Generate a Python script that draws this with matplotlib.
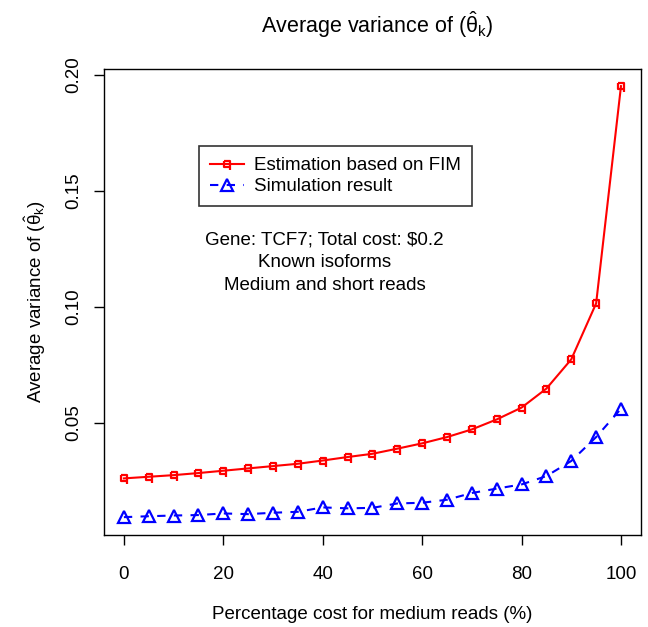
import numpy as np
import matplotlib
matplotlib.use("Agg")
import matplotlib.pyplot as plt
from matplotlib.path import Path

# ---- data ----
pct_medium = [0, 5, 10, 15, 20, 25, 30, 35, 40, 45, 50,
              55, 60, 65, 70, 75, 80, 85, 90, 95, 100]
fim_estimate = [0.0260, 0.0267, 0.0274, 0.0283, 0.0293, 0.0303, 0.0313,
                0.0323, 0.0337, 0.0352, 0.0366, 0.0388, 0.0411, 0.0438,
                0.0471, 0.0514, 0.0565, 0.0647, 0.0773, 0.1014, 0.1950]
simulation = [0.0093, 0.0097, 0.0100, 0.0102, 0.0109, 0.0106, 0.0112,
              0.0116, 0.0135, 0.0131, 0.0133, 0.0152, 0.0155, 0.0168,
              0.0197, 0.0216, 0.0234, 0.0270, 0.0335, 0.0438, 0.0560]
x_ticks = [0, 20, 40, 60, 80, 100]
y_ticks = [0.05, 0.10, 0.15, 0.20]
y_tick_labels = ["0.05", "0.10", "0.15", "0.20"]

plt.rcParams["font.family"] = ["Liberation Sans", "DejaVu Sans"]
plt.rcParams["mathtext.fontset"] = "custom"
plt.rcParams["mathtext.rm"] = "Liberation Sans"
plt.rcParams["mathtext.it"] = "Liberation Sans"

FS = 13.5

# little square with a tail, like the symbol in the original
q_marker = Path([(-1, 1), (1, 1), (1, -2.2), (1, -1), (-1, -1), (-1, 1)],
                [Path.MOVETO, Path.LINETO, Path.LINETO,
                 Path.MOVETO, Path.LINETO, Path.LINETO])

fig = plt.figure(figsize=(6.48, 6.27), dpi=100)
ax = fig.add_axes([0.1605, 0.1467, 0.8285, 0.7433])

ax.plot(pct_medium, fim_estimate, color="red", lw=1.5,
        marker=q_marker, markersize=8, markerfacecolor="none",
        markeredgecolor="red", markeredgewidth=1.6,
        label="Estimation based on FIM")
ax.plot(pct_medium, simulation, color="blue", lw=1.5, ls=(0, (4, 4)),
        marker="^", markersize=9, markerfacecolor="none",
        markeredgecolor="blue", markeredgewidth=1.6,
        label="Simulation result")

# R-like axis ranges (4% padding)
ax.set_xlim(-4, 104)
ax.set_ylim(0.0016, 0.2024)
ax.set_xticks(x_ticks)
ax.set_yticks(y_ticks)
ax.set_yticklabels(y_tick_labels, rotation=90, va="center")
ax.tick_params(direction="out", length=7, width=1, labelsize=FS)
ax.tick_params(axis="x", pad=15)
ax.tick_params(axis="y", pad=9)
for sp in ax.spines.values():
    sp.set_linewidth(1)

ax.set_xlabel("Percentage cost for medium reads (%)", fontsize=FS, labelpad=17)
ax.set_ylabel(r"Average variance of $(\hat{\theta}_\mathrm{k})$", fontsize=FS, labelpad=12)
fig.text(0.5825, 1 - 25 / 627, r"Average variance of $(\hat{\theta}_\mathrm{k})$",
         fontsize=15.5, ha="center", va="center")

leg = ax.legend(loc="upper left", bbox_to_anchor=(0.177, 0.835),
                frameon=True, fancybox=False, edgecolor="black",
                fontsize=FS, handlelength=1.8, handletextpad=0.55,
                borderpad=0.6, labelspacing=0.2, borderaxespad=0)
leg.get_frame().set_linewidth(1.2)

ax.text(40.4, 0.119, "Gene: TCF7; Total cost: \\$0.2\nKnown isoforms\nMedium and short reads",
        ha="center", va="center", fontsize=FS, linespacing=1.45)

fig.savefig("out.png", dpi=100)
